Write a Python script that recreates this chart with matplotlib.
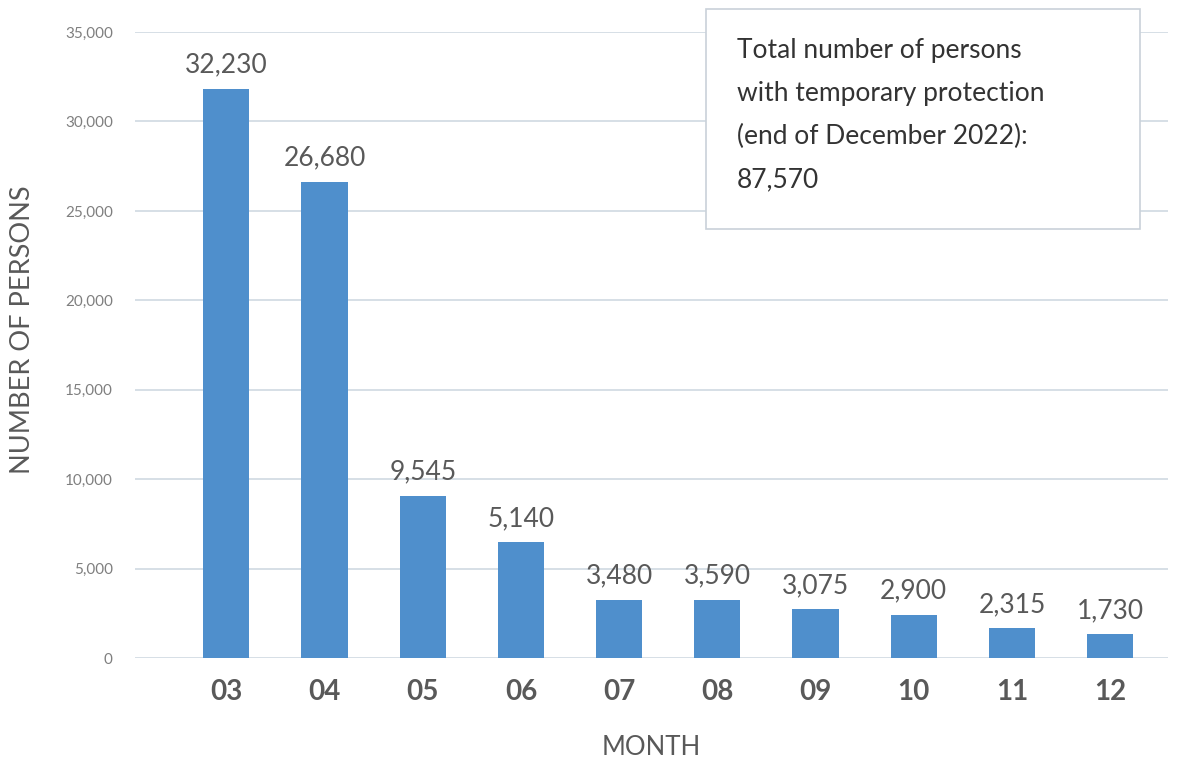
import matplotlib
matplotlib.use("Agg")
import matplotlib.pyplot as plt

plt.rcParams["font.family"] = ["Lato", "DejaVu Sans"]

months = ["03", "04", "05", "06", "07", "08", "09", "10", "11", "12"]
# bar heights as drawn in the reference
heights = [31840, 26640, 9070, 6490, 3250, 3250, 2740, 2410, 1680, 1340]
# numbers printed above the bars
labels = [32230, 26680, 9545, 5140, 3480, 3590, 3075, 2900, 2315, 1730]
yticks = [0, 5000, 10000, 15000, 20000, 25000, 30000, 35000]
note = "Total number of persons\nwith temporary protection\n(end of December 2022):\n87,570"

bar_col = "#4F8FCC"
grid_col = "#D3DCE4"
txt_col = "#595959"

fig = plt.figure(figsize=(11.84, 7.63), dpi=100)
ax = fig.add_axes([0.114, 0.1376, 0.8725, 0.8204])

x = list(range(len(months)))
ax.bar(x, heights, width=0.47, color=bar_col, zorder=3)

for xi, h, lab in zip(x, heights, labels):
    ax.annotate("{:,}".format(lab), (xi, h), xytext=(0, 8), textcoords="offset points",
                ha="center", va="bottom", fontsize=19, color=txt_col)

ax.set_ylim(0, 35000)
ax.set_xlim(-0.93, 9.59)
ax.set_yticks(yticks)
ax.set_yticklabels(["{:,}".format(v) for v in yticks], fontsize=11, color="#7F7F7F")
ax.set_xticks(x)
ax.set_xticklabels(months, fontsize=20, fontweight="bold", color=txt_col)
ax.tick_params(axis="both", length=0)
ax.tick_params(axis="y", pad=16)
ax.tick_params(axis="x", pad=15)

ax.grid(axis="y", color=grid_col, linewidth=1.3, zorder=0)
for s in ax.spines.values():
    s.set_visible(False)

ax.set_xlabel("MONTH", fontsize=18.5, color=txt_col, labelpad=22)
fig.text(0.019, 0.568, "NUMBER OF PERSONS", rotation=90, ha="center", va="center",
         fontsize=19.5, color=txt_col)

fig.patches.append(plt.Rectangle((706 / 1184, 1 - 229 / 763), 434 / 1184, 220 / 763,
                                 transform=fig.transFigure, facecolor="white",
                                 edgecolor="#C9D1D9", linewidth=1.2, zorder=5))
fig.text(737 / 1184, 1 - 38 / 763, note, ha="left", va="top", fontsize=19,
         color="#333333", linespacing=1.9, zorder=6)

fig.savefig("out.png", dpi=100)
